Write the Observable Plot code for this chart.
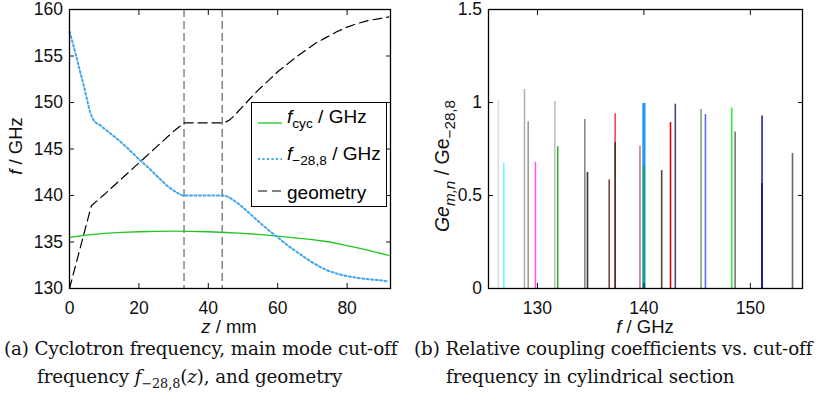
<!DOCTYPE html>
<html>
<head>
<meta charset="utf-8">
<script src="https://cdn.jsdelivr.net/npm/d3@7"></script>
<script src="https://cdn.jsdelivr.net/npm/@observablehq/plot@0.6"></script>
<style>
  html, body { margin: 0; padding: 0; background: #fff; }
  #root { position: relative; width: 819px; height: 403px; overflow: hidden; font-family: "Liberation Sans", Arial, sans-serif; }
  .pane { position: absolute; top: 0; }
  .lbl { position: absolute; font-size: 18.5px; line-height: 1; color: #111; white-space: nowrap; font-family: "Liberation Sans", Arial, sans-serif; }
  .rot { transform-origin: center center; transform: translate(-50%, -50%) rotate(-90deg); }
  .cap { position: absolute; font-family: "DejaVu Serif", "Liberation Serif", serif; font-size: 18.3px; color: #111; white-space: nowrap; line-height: 28px; letter-spacing: -0.1px; }
  .legend { position: absolute; left: 251px; top: 102px; width: 136px; height: 105px; border: 1.2px solid #000; background: #fff; box-sizing: border-box; }
  .legend .row { position: absolute; left: 0; font-size: 19px; line-height: 1; white-space: nowrap; }
  sub { font-size: 72%; vertical-align: -0.38em; line-height: 0; }
</style>
</head>
<body>
<div id="root">
  <div id="left" class="pane" style="left:0px"></div>
  <div id="right" class="pane" style="left:410px"></div>

  <div class="lbl rot" style="left:16px; top:146px;"><i>f</i> / GHz</div>
  <div class="lbl" style="left:229px; top:318px; transform: translateX(-50%);"><i>z</i> / mm</div>
  <div class="lbl rot" style="left:443px; top:166px; font-size:19.5px;"><i>Ge</i><sub style="font-size:78%"><i>m,n</i></sub> / Ge<sub style="font-size:78%">−28,8</sub></div>
  <div class="lbl" style="left:645px; top:318px; transform: translateX(-50%);"><i>f</i> / GHz</div>

  <div class="legend">
    <svg width="30" height="105" style="position:absolute; left:4px; top:0px">
      <line x1="2" x2="26" y1="20" y2="20" stroke="#22c422" stroke-width="1.3"></line>
      <line x1="2" x2="26" y1="56" y2="56" stroke="#41a5ee" stroke-width="2" stroke-dasharray="2,2.5"></line>
      <line x1="2" x2="26" y1="88" y2="88" stroke="#000" stroke-width="1.2" stroke-dasharray="9,5"></line>
    </svg>
    <div class="row" style="left:35px; top:4px;"><i>f</i><sub>cyc</sub> / GHz</div>
    <div class="row" style="left:35px; top:41px;"><i>f</i><sub>−28,8</sub> / GHz</div>
    <div class="row" style="left:35px; top:80px;">geometry</div>
  </div>

  <div class="cap" style="left:4px; top:335px;">(a) Cyclotron frequency, main mode cut-off<br><span style="padding-left:33px">frequency <i>f</i><sub style="font-size:70%">−28,8</sub>(<i>z</i>), and geometry</span></div>
  <div class="cap" style="left:414px; top:335px;">(b) Relative coupling coefficients vs. cut-off<br><span style="padding-left:32px">frequency in cylindrical section</span></div>
</div>
<script>
// ---- Panel (a) data ----
const zCyc   = [0, 5, 10, 15, 20, 25, 30, 35, 40, 45, 50, 55, 60, 65, 70, 75, 80, 85, 92];
const fCyc   = [135.5, 135.75, 135.92, 136.03, 136.1, 136.15, 136.17, 136.15, 136.1, 136.02, 135.93, 135.8, 135.63, 135.45, 135.25, 135.0, 134.6, 134.2, 133.55];

const zMode  = [0, 1, 2, 3, 4, 5, 6, 7, 9, 11, 14, 17, 20, 23, 26, 29, 31, 33, 38, 44, 46, 48, 50, 53, 56, 60, 63, 66, 70, 74, 78, 82, 86, 89, 92];
const fMode  = [157.6, 156.3, 154.9, 153.4, 152.0, 150.4, 148.9, 148.1, 147.5, 146.9, 146.0, 145.0, 143.9, 142.9, 141.8, 140.8, 140.3, 140.0, 140.0, 140.0, 139.8, 139.3, 138.7, 137.7, 136.7, 135.5, 134.6, 133.8, 132.8, 132.0, 131.5, 131.2, 131.0, 130.9, 130.75];

const zGeom  = [0, 6.3, 10, 15, 20, 25, 30, 32, 33, 44, 45, 46, 47, 48, 50, 52, 54, 56, 58, 60, 62, 65, 68, 71, 74, 77, 80, 83, 86, 89, 92];
const fGeom  = [130, 138.9, 140.1, 141.8, 143.5, 145.2, 146.9, 147.5, 147.8, 147.8, 147.9, 148.1, 148.4, 148.8, 149.6, 150.4, 151.2, 151.9, 152.6, 153.3, 153.9, 154.8, 155.6, 156.4, 157.0, 157.6, 158.1, 158.5, 158.8, 159.0, 159.2];

const zSection = [33, 44];
const zTicks = [0, 20, 40, 60, 80];
const fTicksA = [130, 135, 140, 145, 150, 155, 160];

// ---- Panel (b) data ----
const modeFreq = [126.33, 126.84, 128.78, 129.13, 129.81, 131.63, 131.90, 134.45, 134.70, 136.74, 137.30, 137.30, 139.63, 140.00, 140.00, 141.67, 142.50, 142.95, 145.37, 145.78, 148.25, 148.57, 151.10, 151.10, 153.96];
const modeGe   = [1.012, 0.672, 1.070, 0.896, 0.679, 1.007, 0.762, 0.909, 0.624, 0.584, 0.939, 0.785, 0.765, 0.995, 0.658, 0.634, 0.892, 0.991, 0.962, 0.935, 0.970, 0.842, 0.928, 0.565, 0.726];
const modeColor = ["#dddddd", "#66ffff", "#b0b0b0", "#9a9a9a", "#ff55ff", "#c0c0c0", "#33aa33", "#888888", "#333344", "#884444", "#ff4444", "#443322", "#cc7777", "#2299ee", "#11aa88", "#554444", "#dd0000", "#444488", "#77aa77", "#6666ff", "#33ee33", "#777777", "#2222bb", "#111199", "#666666"];
const fTicksB = [130, 140, 150];
const geTicks = [0, 0.5, 1, 1.5];

const FONT = "Liberation Sans, Arial, sans-serif";
const FS = 17.5;

const cyc = zCyc.map((z, i) => ({z, f: fCyc[i]}));
const mode = zMode.map((z, i) => ({z, f: fMode[i]}));
const geom = zGeom.map((z, i) => ({z, f: fGeom[i]}));
const bars = modeFreq.map((f, i) => ({f, g: modeGe[i], c: modeColor[i], w: (f === 140 ? (i === 13 ? 3.2 : 2.4) : 1.6)}));

const blank = () => "";

const left = Plot.plot({
  width: 410, height: 335,
  marginLeft: 69, marginRight: 20, marginTop: 9, marginBottom: 47,
  style: {fontFamily: FONT, fontSize: FS + "px", color: "#111", background: "transparent"},
  x: {domain: [0, 92.5]},
  y: {domain: [130, 160]},
  marks: [
    Plot.ruleX(zSection, {stroke: "#666", strokeWidth: 1.2, strokeDasharray: "8,4"}),
    Plot.line(cyc, {x: "z", y: "f", stroke: "#22c422", strokeWidth: 1.3}),
    Plot.line(mode, {x: "z", y: "f", stroke: "#41a5ee", strokeWidth: 2, strokeDasharray: "2,2.5", curve: "monotone-x"}),
    Plot.line(geom, {x: "z", y: "f", stroke: "#000", strokeWidth: 1.2, strokeDasharray: "9,5"}),
    Plot.axisX({anchor: "bottom", ticks: zTicks, tickSize: -5, tickPadding: 18, fontSize: FS, label: null, tickFormat: d => String(d)}),
    Plot.axisX({anchor: "top", ticks: zTicks, tickSize: -5, tickFormat: blank, label: null}),
    Plot.axisY({anchor: "left", ticks: fTicksA, tickSize: -5, tickPadding: 11.5, fontSize: FS, label: null, tickFormat: d => String(d)}),
    Plot.axisY({anchor: "right", ticks: fTicksA, tickSize: -5, tickFormat: blank, label: null}),
    Plot.frame({stroke: "#000", strokeWidth: 1.3})
  ]
});
document.getElementById("left").appendChild(left);

const right = Plot.plot({
  width: 409, height: 335,
  marginLeft: 78, marginRight: 17, marginTop: 9, marginBottom: 47,
  style: {fontFamily: FONT, fontSize: FS + "px", color: "#111", background: "transparent"},
  x: {domain: [125.4, 154.9]},
  y: {domain: [0, 1.5]},
  marks: [
    Plot.ruleX(bars, {x: "f", y1: 0, y2: "g", stroke: "c", strokeWidth: "w"}),
    Plot.axisX({anchor: "bottom", ticks: fTicksB, tickSize: -5, tickPadding: 18, fontSize: FS, label: null, tickFormat: d => String(d)}),
    Plot.axisX({anchor: "top", ticks: fTicksB, tickSize: -5, tickFormat: blank, label: null}),
    Plot.axisY({anchor: "left", ticks: geTicks, tickSize: -5, tickPadding: 11.5, fontSize: FS, label: null, tickFormat: d => String(d)}),
    Plot.axisY({anchor: "right", ticks: geTicks, tickSize: -5, tickFormat: blank, label: null}),
    Plot.frame({stroke: "#000", strokeWidth: 1.3})
  ]
});
document.getElementById("right").appendChild(right);
</script>
</body>
</html>
